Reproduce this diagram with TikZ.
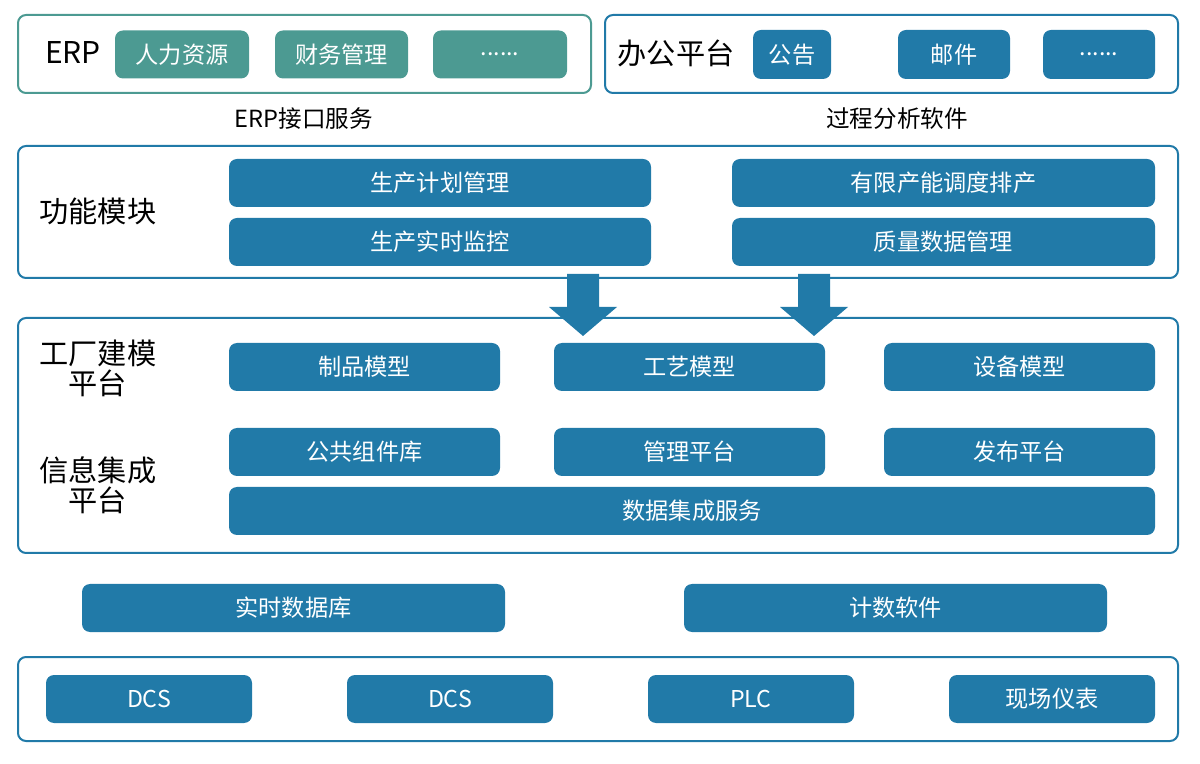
\documentclass[tikz,border=0pt]{standalone}
\usepackage{fontspec}
\setmainfont{Noto Sans CJK SC}
\usepackage{tikz}

\definecolor{blu}{RGB}{33,122,168}
\definecolor{tea}{RGB}{76,154,146}

\tikzset{
  box/.style = {fill = blu, rounded corners = 4pt, text = white, inner sep = 0pt,
                minimum height = 24pt, font = \fontsize{11.6}{13}\selectfont},
  tbox/.style = {box, fill = tea},
  frame/.style = {draw = blu, line width = 1pt, rounded corners = 4pt},
  lab/.style = {align = center, font = \fontsize{14.6}{15}\selectfont},
  sub/.style = {font = \fontsize{11.8}{13}\selectfont}
}

\begin{document}
\begin{tikzpicture}[x = 0.5pt, y = -0.5pt]
        \useasboundingbox (0,0) rectangle (1200,764);

        % top row
        \draw [frame, draw = tea] (18,15) rectangle (591,93);
        \node [lab, font = \fontsize{15}{16}\selectfont] (erp) at (73,53) {ERP};
        \node [tbox, minimum width = 67pt] (renli) at (182,54.5) {人力资源};
        \node [tbox, minimum width = 66.5pt] (caiwu) at (341.5,54.5) {财务管理};
        \node [tbox, minimum width = 67pt] (erpmore) at (500,54.5) {......};

        \draw [frame] (605,15) rectangle (1178,93);
        \node [lab] (bangong) at (676,53) {办公平台};
        \node [box, minimum width = 39pt, minimum height = 24.5pt] (gonggao) at (792,54.5) {公告};
        \node [box, minimum width = 56pt, minimum height = 24.5pt] (youjian) at (954,54.5) {邮件};
        \node [box, minimum width = 56pt, minimum height = 24.5pt] (oamore) at (1099,54.5) {......};

        \node [sub] (erpif) at (304,119) {ERP接口服务};
        \node [sub] (guocheng) at (897,119) {过程分析软件};

        % function modules
        \draw [frame] (18,146) rectangle (1178,278);
        \node [lab] (gongneng) at (98,211) {功能模块};
        \node [box, minimum width = 211pt] (jihua) at (440,183) {生产计划管理};
        \node [box, minimum width = 211pt] (jiankong) at (440,242) {生产实时监控};
        \node [box, minimum width = 211.5pt] (diaodu) at (943.5,183) {有限产能调度排产};
        \node [box, minimum width = 211.5pt] (zhiliang) at (943.5,242) {质量数据管理};

        % platforms
        \draw [frame] (18,318) rectangle (1178,553);
        \node [lab] (gongchang) at (98,368) {工厂建模\\平台};
        \node [lab] (xinxi) at (98,485) {信息集成\\平台};
        \node [box, minimum width = 135.5pt] (zhipin) at (364.5,367) {制品模型};
        \node [box, minimum width = 135.5pt] (gongyi) at (689.5,367) {工艺模型};
        \node [box, minimum width = 135.5pt] (shebei) at (1019.5,367) {设备模型};
        \node [box, minimum width = 135.5pt] (zujian) at (364.5,452) {公共组件库};
        \node [box, minimum width = 135.5pt] (guanli) at (689.5,452) {管理平台};
        \node [box, minimum width = 135.5pt] (fabu) at (1019.5,452) {发布平台};
        \node [box, minimum width = 463pt] (jicheng) at (692,511) {数据集成服务};

        % down arrows
        \fill [blu] (567,274) -- (599,274) -- (599,307) -- (617,307) -- (583,336) -- (549,307) -- (567,307) -- cycle;
        \fill [blu] (798,274) -- (830,274) -- (830,307) -- (848,307) -- (814,336) -- (780,307) -- (798,307) -- cycle;

        % database and counting
        \node [box, minimum width = 211.5pt] (shishi) at (293.5,608) {实时数据库};
        \node [box, minimum width = 211.5pt] (jishu) at (895.5,608) {计数软件};

        % field level
        \draw [frame] (18,657) rectangle (1178,741);
        \node [box, minimum width = 103pt] (dcsa) at (149,699) {DCS};
        \node [box, minimum width = 103pt] (dcsb) at (450,699) {DCS};
        \node [box, minimum width = 103pt] (plc) at (751,699) {PLC};
        \node [box, minimum width = 103pt] (yibiao) at (1052,699) {现场仪表};
    \end{tikzpicture}
\end{document}
